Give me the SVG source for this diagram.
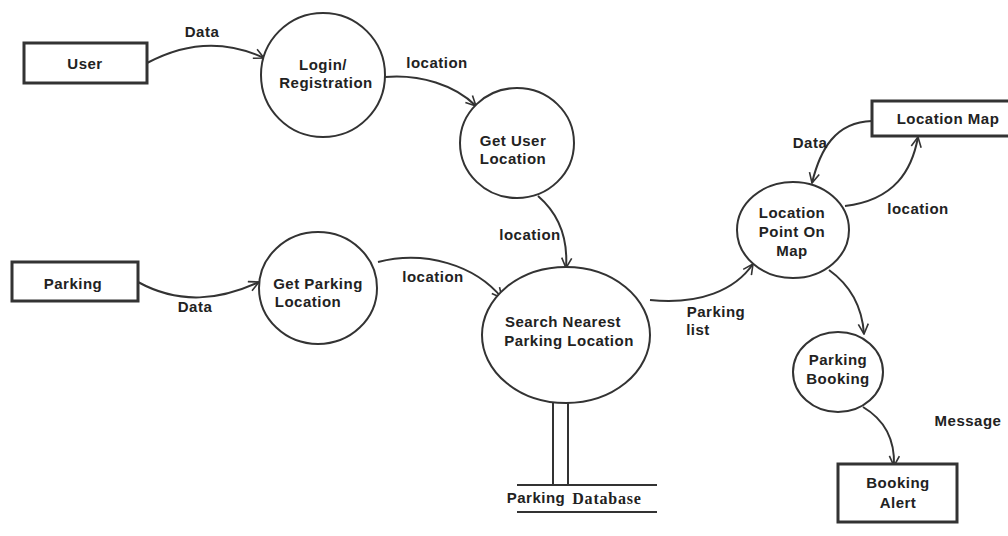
<svg xmlns="http://www.w3.org/2000/svg" width="1008" height="536" viewBox="0 0 1008 536">
<defs>
<marker id="arr" viewBox="0 0 12 12" refX="11" refY="6" markerWidth="12" markerHeight="12" markerUnits="userSpaceOnUse" orient="auto">
<path d="M1,1 L11,6 L1,11" fill="none" stroke="#333" stroke-width="1.6"/>
</marker>
<style>
.shape{fill:#fff;stroke:#333;stroke-width:2}
.box{fill:#fff;stroke:#333;stroke-width:3}
.t{font-family:"Liberation Sans",Arial,sans-serif;font-weight:bold;font-size:15px;letter-spacing:0.5px;fill:#222;text-anchor:middle}
.c{fill:none;stroke:#333;stroke-width:2;marker-end:url(#arr)}
.l{fill:none;stroke:#333;stroke-width:2}
</style>
</defs>
<rect width="1008" height="536" fill="#fff"/>
<g id="connectors">
<path class="c" d="M147,63 C190,40 230,42 264,58"/>
<path class="c" d="M385,77 C420,74 455,85 476,106"/>
<path class="c" d="M538,196 C560,215 568,240 566,268"/>
<path class="c" d="M138,282 C180,305 220,300 259,282"/>
<path class="c" d="M378,262 C425,250 475,265 502,298"/>
<path class="c" d="M650,300 C700,305 735,290 753,264"/>
<path class="c" d="M872,121 C835,122 820,150 812,183"/>
<path class="c" d="M845,206 C895,200 912,170 918,137"/>
<path class="c" d="M829,270 C850,285 862,305 864,334"/>
<path class="c" d="M863,407 C885,420 895,440 894,466"/>
<text class="t" x="202" y="37">Data</text>
<text class="t" x="437" y="68">location</text>
<text class="t" x="530" y="240">location</text>
<text class="t" x="195" y="312">Data</text>
<text class="t" x="433" y="282">location</text>
<text class="t" x="716" y="317">Parking</text>
<text class="t" x="698" y="335">list</text>
<text class="t" x="810" y="148">Data</text>
<text class="t" x="918" y="214">location</text>
<text class="t" x="968" y="426">Message</text>
</g>
<g id="user"><rect class="box" x="24" y="43" width="123" height="40"/><text class="t" x="85" y="69">User</text></g>
<g id="login"><circle class="shape" cx="323" cy="75" r="62"/><text class="t" x="323" y="70">Login/</text><text class="t" x="326" y="88">Registration</text></g>
<g id="getuser"><ellipse class="shape" cx="517" cy="143" rx="57" ry="55"/><text class="t" x="513" y="146">Get User</text><text class="t" x="513" y="164">Location</text></g>
<g id="parking"><rect class="box" x="12" y="262" width="126" height="39"/><text class="t" x="73" y="289">Parking</text></g>
<g id="getparking"><ellipse class="shape" cx="318" cy="288" rx="59" ry="56"/><text class="t" x="318" y="289">Get Parking</text><text class="t" x="308" y="307">Location</text></g>
<g id="search"><ellipse class="shape" cx="566" cy="335" rx="84" ry="68"/><text class="t" x="563" y="327">Search Nearest</text><text class="t" x="569" y="346">Parking Location</text></g>
<g id="database">
<line class="l" x1="553" y1="402" x2="553" y2="484"/>
<line class="l" x1="568" y1="402" x2="568" y2="484"/>
<line class="l" x1="517" y1="485" x2="657" y2="485"/>
<line class="l" x1="517" y1="512" x2="657" y2="512"/>
<text class="t" x="536" y="503">Parking</text>
<text x="607" y="504" style="font-family:'Liberation Serif','Times New Roman',serif;font-weight:bold;font-size:16px;letter-spacing:0.8px;fill:#222;text-anchor:middle">Database</text>
</g>
<g id="locpoint"><ellipse class="shape" cx="793" cy="230" rx="56" ry="48"/><text class="t" x="792" y="218">Location</text><text class="t" x="792" y="237">Point On</text><text class="t" x="792" y="256">Map</text></g>
<g id="locmap"><rect class="box" x="872" y="101" width="145" height="35"/><text class="t" x="948" y="124">Location Map</text></g>
<g id="booking"><ellipse class="shape" cx="838" cy="372" rx="45" ry="40"/><text class="t" x="838" y="365">Parking</text><text class="t" x="838" y="384">Booking</text></g>
<g id="alert"><rect class="box" x="838" y="464" width="119" height="58"/><text class="t" x="898" y="488">Booking</text><text class="t" x="898" y="508">Alert</text></g>
</svg>
